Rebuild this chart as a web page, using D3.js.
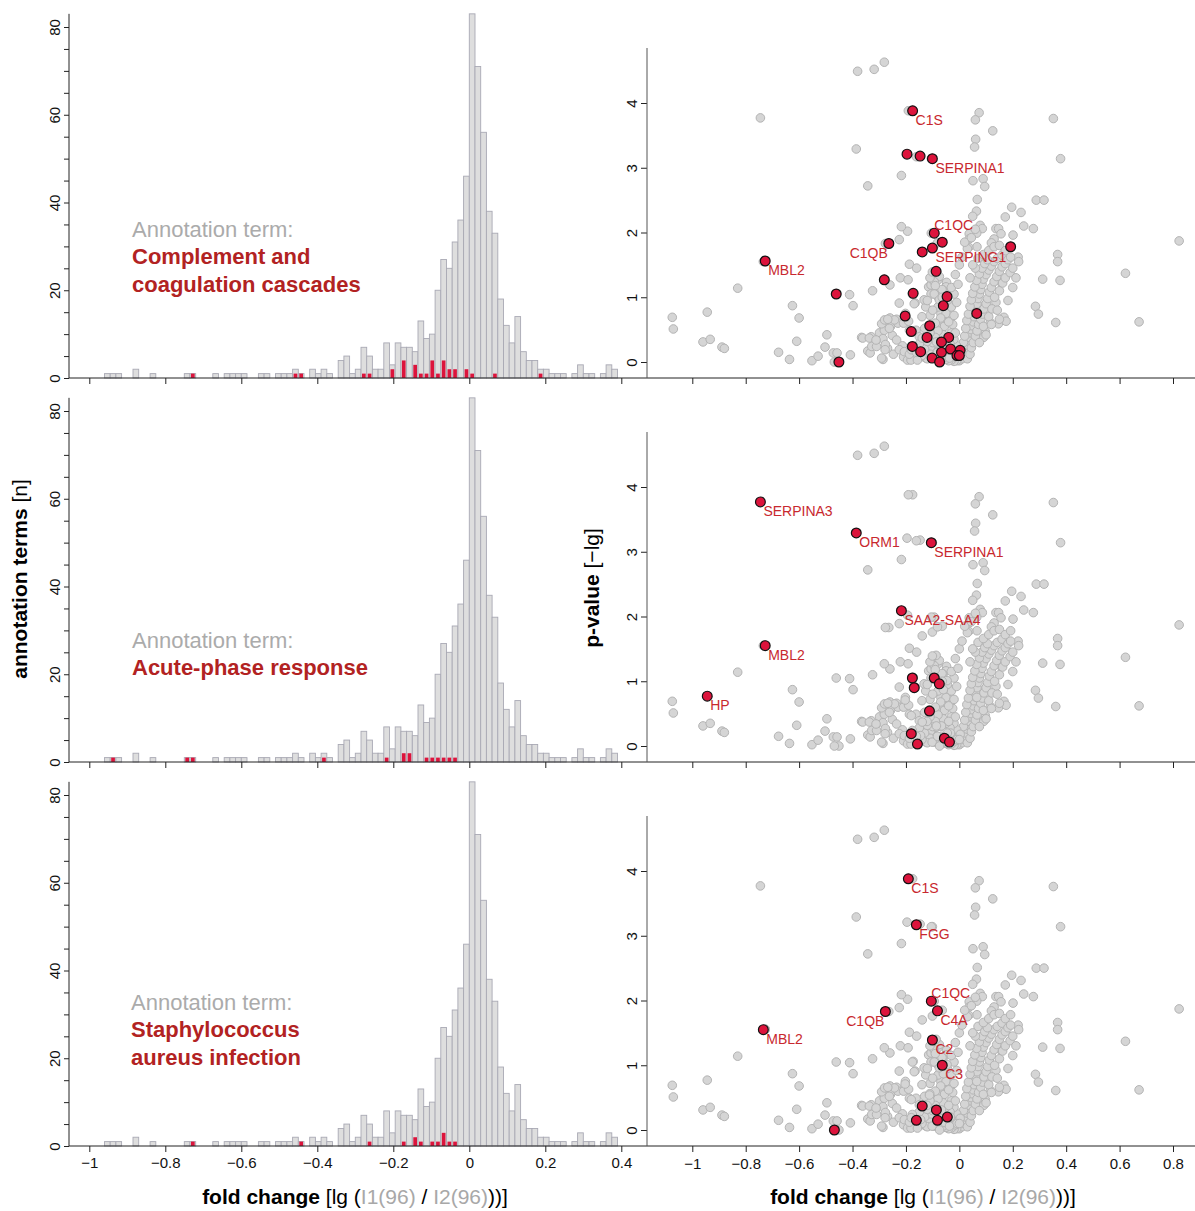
<!DOCTYPE html>
<html>
<head>
<meta charset="utf-8">
<script src="https://cdn.jsdelivr.net/npm/d3@7"></script>
<style>
  body{margin:0;background:#fff;}
  svg text{font-family:"Liberation Sans",Arial,Helvetica,sans-serif;}
</style>
</head>
<body>
<main></main>
<script>
// histogram of fold changes, bins of 0.015, first bin starts at -64*0.015
const binWidth = 0.015;
const firstBin = -64;
const histCounts = [
  1,1,1,0,0,2,0,0,1,0,
  0,0,0,0,1,1,0,0,0,1,
  0,1,1,1,1,0,0,1,1,0,
  1,1,1,2,1,0,2,1,2,1,
  0,4,5,1,2,7,5,2,2,8,
  3,8,7,7,6,13,9,10,20,27,
  25,31,36,46,83,71,56,38,33,18,
  12,8,14,6,4,4,2,2,1,1,
  1,0,1,3,1,1,0,1,3,2
];

// [bin index, count] of the proteins in the annotation term
const termBins1 = [[-49,1],[-31,1],[-30,1],[-19,1],[-18,1],[-14,2],[-12,4],[-10,3],[-9,1],[-8,1],[-7,4],[-6,1],[-5,4],[-4,2],[-3,2],[-1,2],[0,1],[4,1],[12,1]];
const termBins2 = [[-63,1],[-50,1],[-49,1],[-26,1],[-15,1],[-12,2],[-11,2],[-8,1],[-7,1],[-6,1],[-5,1],[-4,1],[-3,1]];
const termBins3 = [[-49,1],[-30,1],[-18,1],[-12,1],[-10,2],[-9,1],[-7,1],[-6,1],[-5,3],[-4,1],[-3,1]];

const termNames = [
  ["Complement and", "coagulation cascades"],
  ["Acute-phase response"],
  ["Staphylococcus", "aureus infection"]
];

const histTicks = [-1, -0.8, -0.6, -0.4, -0.2, 0, 0.2, 0.4];
const countTicks = [0, 20, 40, 60, 80];
const volcanoTicksX = [-1, -0.8, -0.6, -0.4, -0.2, 0, 0.2, 0.4, 0.6, 0.8];
const volcanoTicksY = [0, 1, 2, 3, 4];

// all other proteins [fold change, -lg p]
const proteins = [
  [-0.281,4.63],[-0.319,4.52],[-0.381,4.49],[-0.217,2.88],[-0.343,2.72],[-0.194,2.02],[-0.225,1.89],[-0.187,1.51],
  [-0.160,1.45],[-0.221,1.30],[-0.192,1.27],[-0.260,1.19],[-0.325,1.10],[-0.830,1.14],[-0.411,1.04],[-0.398,0.87],
  [-0.625,0.87],[-0.600,0.68],[-1.075,0.69],[-1.071,0.51],[-0.960,0.31],[-0.933,0.35],[-0.889,0.23],[-0.880,0.21],
  [-0.677,0.15],[-0.636,0.04],[-0.552,0.02],[-0.529,0.09],[-0.609,0.32],[-0.503,0.23],[-0.496,0.42],[-0.472,0.14],
  [-0.458,0.14],[-0.408,0.11],[-0.366,0.38],[-0.330,0.39],[-0.343,0.17],[-0.334,0.14],[-0.328,0.24],[-0.310,0.24],
  [-0.299,0.45],[-0.281,0.49],[-0.291,0.59],[-0.280,0.65],[-0.258,0.55],[-0.260,0.68],[-0.235,0.66],[-0.230,0.60],
  [-0.209,0.60],[-0.190,0.63],[-0.202,0.75],[-0.251,0.41],[-0.286,0.36],[-0.269,0.21],[-0.277,0.27],[-0.286,0.04],
  [-0.247,0.12],[-0.213,0.25],[-0.202,0.15],[-0.209,0.08],[-0.194,0.03],[-0.181,0.03],[-0.225,0.91],[-0.166,0.91],
  [0.074,3.85],[0.060,3.74],[0.352,3.76],[0.125,3.57],[0.061,3.44],[0.057,3.32],[0.379,3.14],[0.089,2.83],
  [0.051,2.80],[0.095,2.71],[0.067,2.51],[0.288,2.50],[0.317,2.50],[0.064,2.33],[0.196,2.39],[0.231,2.31],
  [0.172,2.24],[0.823,1.87],[0.241,2.10],[0.277,2.06],[0.078,2.11],[0.086,2.06],[0.137,2.06],[0.147,2.06],
  [0.156,1.98],[0.201,1.96],[0.065,1.99],[0.037,1.98],[0.130,1.90],[0.120,1.84],[0.037,1.90],[0.066,1.78],
  [0.035,1.77],[0.220,1.62],[0.368,1.66],[0.368,1.55],[0.622,1.37],[0.312,1.28],[0.377,1.26],[0.285,0.86],
  [0.296,0.74],[0.361,0.61],[0.673,0.62],[0.167,0.69],[0.175,0.63],[0.156,1.23],[0.146,0.59],[0.116,0.61],
  [0.097,0.47],[0.091,0.38],[0.137,0.92],[0.100,0.90],
  [-0.115,1.16],[-0.106,1.05],[-0.087,1.07],[-0.070,1.04],[-0.055,0.98],[-0.126,0.85],[-0.132,0.96],[-0.091,1.28],
  [-0.048,1.23],[-0.080,1.27],[-0.042,0.75],[-0.060,0.65],[-0.081,0.58],[-0.243,0.65],[-0.268,0.66],[-0.262,0.52],
  [-0.235,0.34],[-0.278,0.19],[-0.291,0.06],[-0.362,0.37],[-0.337,0.37],[-0.312,0.34],
  [-0.187,0.49],[-0.162,0.49],[-0.150,0.39],[-0.131,0.34],[-0.112,0.49],[-0.087,0.39],[-0.069,0.47],
  [-0.225,0.19],[-0.206,0.16],[-0.187,0.12],[-0.162,0.19],[-0.131,0.16],[-0.106,0.21],[-0.087,0.29],
  [-0.143,0.08],[-0.125,0.06],[-0.094,0.06],[-0.050,0.04],[-0.037,0.11],
  [-0.069,0.75],[-0.044,0.73],[-0.031,0.68],[-0.075,0.62],[-0.056,0.55],[-0.087,0.57],
  [-0.106,1.19],[-0.075,1.32],[-0.094,1.24],[-0.050,1.16],[-0.062,1.11],[-0.081,1.01],
  [0.000,0.02],[0.010,0.05],[0.018,0.10],[0.022,0.15],[0.025,0.20],[0.030,0.26],[0.032,0.32],[0.036,0.38],
  [0.040,0.45],[0.045,0.50],[0.048,0.56],[0.052,0.62],[0.055,0.70],[0.060,0.76],[0.062,0.84],[0.066,0.90],
  [0.070,0.98],[0.075,1.05],[0.080,1.12],[0.085,1.20],[0.090,1.28],[0.100,1.35],[0.110,1.42],[0.120,1.48],
  [0.130,1.55],[0.142,1.60],[0.160,1.65],
  [0.030,0.05],[0.040,0.12],[0.045,0.22],[0.052,0.30],[0.060,0.40],[0.066,0.48],[0.072,0.58],[0.080,0.66],
  [0.086,0.74],[0.092,0.82],[0.100,0.90],[0.106,0.98],[0.112,1.08],[0.120,1.15],[0.130,1.24],[0.140,1.32],
  [0.150,1.40],[0.160,1.47],[0.172,1.52],[0.182,1.58],
  [0.015,0.30],[0.020,0.40],[0.024,0.52],[0.028,0.64],[0.034,0.74],[0.040,0.86],[0.045,0.96],[0.050,1.06],
  [0.058,1.16],[0.065,1.26],[0.075,1.36],[0.085,1.45],[0.095,1.52],[0.105,1.58],
  [0.090,0.55],[0.110,0.70],[0.122,0.82],[0.132,1.00],[0.150,1.10],[0.162,1.22],[0.172,1.30],[0.190,1.38],
  [0.200,1.45],[0.182,0.95],[0.200,1.15],[0.212,1.30],[0.142,0.80],[0.075,0.30],[0.100,0.42],[0.120,0.58],
  [0.150,0.66],[0.060,1.45],[0.040,1.30],[0.050,1.50],[0.070,1.60],[0.090,1.66],[0.110,1.72],[0.130,1.78],
  [0.150,1.80],[0.172,1.72],[0.192,1.62],[0.222,1.55],
  [-0.010,0.02],[-0.020,0.01],[-0.030,0.03],[-0.040,0.02],[-0.050,0.04],[-0.060,0.06],[-0.015,0.08],[-0.025,0.12],
  [-0.035,0.18],[-0.045,0.10],[-0.055,0.15],[-0.065,0.12],[-0.075,0.10],[-0.085,0.15],[-0.095,0.08],[-0.110,0.12],
  [-0.120,0.05],[-0.130,0.20],[-0.140,0.10],[-0.150,0.28],
  [-0.005,0.15],[-0.010,0.25],[-0.020,0.35],[-0.030,0.45],[-0.035,0.28],[-0.050,0.35],[-0.060,0.42],[-0.070,0.30],
  [-0.080,0.48],[-0.090,0.38],[-0.100,0.30],[-0.110,0.45],[-0.120,0.32],[-0.130,0.52],[-0.015,0.45],[-0.025,0.58],
  [-0.040,0.62],[-0.050,0.75],[-0.070,0.68],[-0.090,0.60],[-0.110,0.72],[-0.020,0.72],[-0.030,0.85],[-0.045,0.95],
  [-0.080,0.85],[-0.100,0.80],[-0.120,0.95],[-0.140,0.70],[-0.010,0.92],[-0.020,1.05],[-0.030,1.15],[-0.065,1.12],
  [-0.090,1.18],[-0.110,1.30],[-0.005,1.20],[-0.015,1.35],[0.000,1.50],[0.010,1.62],[0.030,1.75],[0.020,1.85],
  [0.045,1.92],[0.060,2.05],[0.050,2.25]
];

// highlighted proteins per term [fold change, -lg p, label]
const hits1 = [
  [-0.175,3.88,"C1S"],[-0.196,3.21,""],[-0.147,3.18,""],[-0.101,3.14,"SERPINA1"],[-0.094,1.99,"C1QC"],
  [-0.064,1.85,""],[-0.264,1.83,"C1QB"],[-0.139,1.70,""],[-0.101,1.76,"SERPING1"],[0.192,1.78,""],
  [-0.087,1.40,""],[-0.727,1.56,"MBL2"],[-0.281,1.27,""],[-0.461,1.05,""],[-0.173,1.06,""],[-0.046,1.01,""],
  [-0.060,0.87,""],[0.065,0.75,""],[-0.203,0.71,""],[-0.111,0.56,""],[-0.180,0.47,""],[-0.121,0.38,""],
  [-0.040,0.38,""],[-0.067,0.31,""],[-0.176,0.24,""],[-0.145,0.16,""],[-0.067,0.15,""],[-0.033,0.20,""],
  [0.003,0.18,""],[-0.102,0.06,""],[-0.074,0.00,""],[-0.009,0.10,""],[0.000,0.10,""],[-0.451,0.00,""]
];
const hits2 = [
  [-0.745,3.77,"SERPINA3"],[-0.386,3.29,"ORM1"],[-0.105,3.14,"SERPINA1"],[-0.217,2.09,"SAA2-SAA4"],
  [-0.727,1.55,"MBL2"],[-0.944,0.77,"HP"],[-0.176,1.05,""],[-0.094,1.05,""],[-0.169,0.90,""],
  [-0.075,0.96,""],[-0.112,0.54,""],[-0.180,0.19,""],[-0.157,0.03,""],[-0.056,0.12,""],[-0.037,0.06,""]
];
const hits3 = [
  [-0.191,3.88,"C1S"],[-0.161,3.17,"FGG"],[-0.105,1.99,"C1QC"],[-0.082,1.84,"C4A"],[-0.277,1.83,"C1QB"],
  [-0.734,1.55,"MBL2"],[-0.101,1.39,"C2"],[-0.064,1.00,"C3"],[-0.139,0.37,""],[-0.086,0.31,""],
  [-0.161,0.15,""],[-0.082,0.15,""],[-0.045,0.20,""],[-0.468,0.00,""]
];

const termBins = [termBins1, termBins2, termBins3];
const hits = [hits1, hits2, hits3];

// layout
const sizeOfSVG = {width: 1195, height: 1211};
const rowStep = 384;
const textPos = [{x: 132, y: 237}, {x: 132, y: 648}, {x: 131, y: 1010}];
const labelSide = {C1QB: 'left', C1QC: 'above'};
const red = '#dc143c';
const termRed = '#b22222';
const axisColor = '#222';

const fmt = d => (d < 0 ? '\u2212' : '') + Math.abs(d);

const svg = d3.select('main').append('svg')
  .attr('width', sizeOfSVG.width)
  .attr('height', sizeOfSVG.height)
  .style('display', 'block')
  .style('background', '#fff');

const rotateYLabels = (g, shift) => {
  g.selectAll('.tick text')
    .attr('x', 0).attr('dy', 0).attr('y', 0)
    .attr('text-anchor', 'middle')
    .attr('transform', `translate(${shift},0) rotate(-90)`);
};

const drawHist = (row) => {
  const base = 378 + row * rowStep;
  const x = d3.scaleLinear().domain([-1, 0.4]).range([89.3, 621.3]);
  const y = d3.scaleLinear().domain([0, 80]).range([base, base - 351]);
  const g = svg.append('g');

  const bins = histCounts.map((n, i) => ({k: firstBin + i, n})).filter(d => d.n > 0);
  g.selectAll('rect.bg').data(bins).enter().append('rect')
    .attr('class', 'bg')
    .attr('x', d => x(d.k * binWidth))
    .attr('y', d => y(d.n))
    .attr('width', d => x((d.k + 1) * binWidth) - x(d.k * binWidth))
    .attr('height', d => base - y(d.n))
    .attr('fill', '#dedede')
    .attr('stroke', '#a9a9b4')
    .attr('stroke-width', 0.9);

  g.selectAll('rect.term').data(termBins[row]).enter().append('rect')
    .attr('class', 'term')
    .attr('x', d => x(d[0] * binWidth) + 1)
    .attr('y', d => y(d[1]))
    .attr('width', d => x((d[0] + 1) * binWidth) - x(d[0] * binWidth) - 2)
    .attr('height', d => base - y(d[1]))
    .attr('fill', red);

  const xa = g.append('g')
    .attr('transform', `translate(0,${base})`)
    .style('color', axisColor)
    .call(d3.axisBottom(x).tickValues(histTicks).tickSize(6).tickPadding(5)
      .tickFormat(row === 2 ? fmt : () => ''));
  xa.select('.domain').remove();
  xa.selectAll('text').attr('font-size', 15).attr('fill', '#111');
  g.append('line').attr('x1', 69).attr('x2', 647).attr('y1', base).attr('y2', base)
    .attr('stroke', axisColor);

  const ya = g.append('g')
    .attr('transform', 'translate(69,0)')
    .style('color', axisColor)
    .call(d3.axisLeft(y).tickValues(d3.range(0, 81, 5)).tickSize(5)
      .tickFormat(d => countTicks.includes(d) ? d : ''));
  ya.select('.domain').remove();
  ya.selectAll('text').attr('font-size', 15).attr('fill', '#111');
  rotateYLabels(ya, -9);
  g.append('line').attr('x1', 69).attr('x2', 69).attr('y1', base).attr('y2', y(83))
    .attr('stroke', axisColor);

  // annotation text
  const t = textPos[row];
  g.append('text').attr('x', t.x).attr('y', t.y)
    .attr('font-size', 22).attr('fill', '#ababab')
    .text('Annotation term:');
  termNames[row].forEach((line, i) => {
    g.append('text').attr('x', t.x).attr('y', t.y + 27 + i * 28)
      .attr('font-size', 22).attr('font-weight', 'bold').attr('fill', termRed)
      .text(line);
  });
};

const drawVolcano = (row) => {
  const off = row * rowStep;
  const x = d3.scaleLinear().domain([-1, 0.8]).range([692.3, 1173]);
  const y = d3.scaleLinear().domain([0, 4]).range([362 + off, 103 + off]);
  const g = svg.append('g');

  const xa = g.append('g')
    .attr('transform', `translate(0,${378 + off})`)
    .style('color', axisColor)
    .call(d3.axisBottom(x).tickValues(volcanoTicksX).tickSize(6).tickPadding(6)
      .tickFormat(row === 2 ? fmt : () => ''));
  xa.select('.domain').remove();
  xa.selectAll('text').attr('font-size', 15).attr('fill', '#111');
  g.append('line').attr('x1', 647).attr('x2', 1195).attr('y1', 378 + off).attr('y2', 378 + off)
    .attr('stroke', axisColor);

  const ya = g.append('g')
    .attr('transform', 'translate(647,0)')
    .style('color', axisColor)
    .call(d3.axisLeft(y).tickValues(volcanoTicksY).tickSize(6).tickFormat(d => d));
  ya.select('.domain').remove();
  ya.selectAll('text').attr('font-size', 15).attr('fill', '#111');
  rotateYLabels(ya, -10);
  g.append('line').attr('x1', 647).attr('x2', 647).attr('y1', 378 + off).attr('y2', 48 + off)
    .attr('stroke', '#555');

  // other terms' proteins are grey here too
  const grey = proteins.concat(...hits.filter((h, i) => i !== row).map(h => h.map(d => [d[0], d[1]])));
  g.selectAll('circle.p').data(grey).enter().append('circle')
    .attr('class', 'p')
    .attr('cx', d => x(d[0])).attr('cy', d => y(d[1])).attr('r', 4.3)
    .attr('fill', '#d5d5d5').attr('stroke', '#b4b4b4').attr('stroke-width', 1);

  g.selectAll('circle.h').data(hits[row]).enter().append('circle')
    .attr('class', 'h')
    .attr('cx', d => x(d[0])).attr('cy', d => y(d[1])).attr('r', 4.9)
    .attr('fill', red).attr('stroke', '#111').attr('stroke-width', 1.2);

  g.selectAll('text.lab').data(hits[row].filter(d => d[2])).enter().append('text')
    .attr('class', 'lab')
    .attr('x', d => {
      const side = labelSide[d[2]];
      return x(d[0]) + (side === 'left' ? -1 : side === 'above' ? 0 : 3);
    })
    .attr('y', d => y(d[1]) + (labelSide[d[2]] === 'above' ? -3 : 14))
    .attr('text-anchor', d => labelSide[d[2]] === 'left' ? 'end' : 'start')
    .attr('font-size', 14).attr('fill', '#c8282e')
    .text(d => d[2]);
};

const axisTitles = () => {
  const yt = svg.append('text').attr('transform', 'translate(27,579) rotate(-90)')
    .attr('text-anchor', 'middle').attr('font-size', 21);
  yt.append('tspan').attr('font-weight', 'bold').text('annotation terms');
  yt.append('tspan').text(' [n]');

  const pt = svg.append('text').attr('transform', 'translate(599,588) rotate(-90)')
    .attr('text-anchor', 'middle').attr('font-size', 21);
  pt.append('tspan').attr('font-weight', 'bold').text('p-value');
  pt.append('tspan').text(' [\u2212lg]');

  [355, 923].forEach(cx => {
    const t = svg.append('text').attr('x', cx).attr('y', 1204)
      .attr('text-anchor', 'middle').attr('font-size', 21);
    t.append('tspan').attr('font-weight', 'bold').text('fold change');
    t.append('tspan').text(' [lg (');
    t.append('tspan').attr('fill', '#a8a8a8').text('I1(96)');
    t.append('tspan').text(' / ');
    t.append('tspan').attr('fill', '#a8a8a8').text('I2(96)');
    t.append('tspan').text('))]');
  });
};

[0, 1, 2].forEach(row => {
  drawHist(row);
  drawVolcano(row);
});
axisTitles();
</script>
</body>
</html>
